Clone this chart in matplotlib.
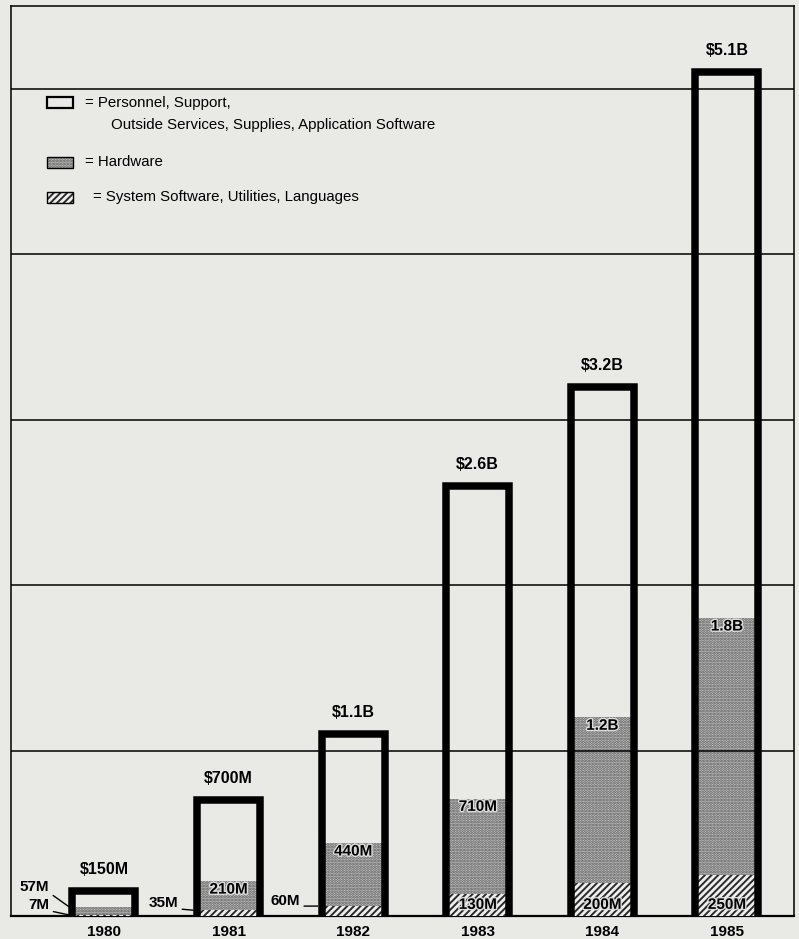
import matplotlib.pyplot as plt
import matplotlib.patheffects as pe
from matplotlib.patches import Rectangle

plt.rcParams['font.family'] = ['Liberation Sans', 'DejaVu Sans']
plt.rcParams['hatch.linewidth'] = 1.4

# data, in billions of dollars
years = ['1980', '1981', '1982', '1983', '1984', '1985']
total = [0.150, 0.700, 1.1, 2.6, 3.2, 5.1]
hardware = [0.057, 0.210, 0.440, 0.710, 1.2, 1.8]
software = [0.007, 0.035, 0.060, 0.130, 0.200, 0.250]
total_labels = ['$150M', '$700M', '$1.1B', '$2.6B', '$3.2B', '$5.1B']
hw_labels = ['57M', '210M', '440M', '710M', '1.2B', '1.8B']
sw_labels = ['7M', '35M', '60M', '130M', '200M', '250M']

paper = '#e9e9e5'
W, H = 799, 939

fig = plt.figure(figsize=(W / 100, H / 100), dpi=100)
fig.patch.set_facecolor(paper)
ax = fig.add_axes([11 / W, 23 / H, 783 / W, 910 / H])
ax.set_facecolor(paper)

x = list(range(len(years)))
bw = 0.506
hw_face, hw_dot = '#c6c6c6', '#5a5a5a'
sw_face, sw_line = '#eeeeee', '#2a2a2a'
halo = [pe.withStroke(linewidth=2, foreground='#dcdcdc')]

# hardware (stipple) and system software (hatched) drawn up from the baseline
ax.bar(x, hardware, width=bw, facecolor=hw_face, edgecolor=hw_dot,
       hatch='......', linewidth=0, zorder=2)
ax.bar(x, software, width=bw, facecolor=sw_face, edgecolor=sw_line,
       hatch='/////', linewidth=0, zorder=3)

# thick open outline for the total
for xi, t in zip(x, total):
    ax.plot([xi - bw / 2, xi - bw / 2, xi + bw / 2, xi + bw / 2], [0, t, t, 0],
            color='black', lw=5.4, solid_joinstyle='miter',
            solid_capstyle='butt', zorder=5)

# horizontal rules every $1B
for g in [1, 2, 3, 4, 5]:
    ax.axhline(g, color='black', lw=1.1, zorder=4)

ax.set_xlim(-0.746, 5.538)
ax.set_ylim(0, 5.5)
ax.set_xticks([])
ax.set_yticks([])
for s in ax.spines.values():
    s.set_linewidth(1.1)
ax.spines['bottom'].set_linewidth(1.6)

# totals above bars
for xi, t, lab in zip(x, total, total_labels):
    ax.annotate(lab, (xi, t), xytext=(0, 10), textcoords='offset points',
                ha='center', va='bottom', fontsize=11.5, fontweight='bold', zorder=6)

# year labels under the baseline
for xi, yr in zip(x, years):
    ax.text(xi, -0.095, yr, ha='center', va='center', fontsize=11,
            fontweight='bold', clip_on=False)

# hardware labels inside bars
for xi, h, lab in zip(x[1:], hardware[1:], hw_labels[1:]):
    ax.annotate(lab, (xi, h), xytext=(0, -6), textcoords='offset points',
                ha='center', va='center', fontsize=11, fontweight='bold',
                path_effects=halo, zorder=6)

# software labels inside the three big bars
for xi, lab in zip(x[3:], sw_labels[3:]):
    ax.annotate(lab, (xi, 0), xytext=(0, 8), textcoords='offset points',
                ha='center', va='center', fontsize=11, fontweight='bold',
                path_effects=halo, zorder=6)

# small values pointed to from the left
leaders = [(0, hardware[0], hw_labels[0], (-14, 14)),
           (0, software[0], sw_labels[0], (-14, 7)),
           (1, software[1], sw_labels[1], (-11, 5)),
           (2, software[2], sw_labels[2], (-13, 4))]
for xi, v, lab, off in leaders:
    ax.annotate(lab, (xi - bw / 2 - 0.03, v), xytext=off, textcoords='offset points',
                ha='right', va='center', fontsize=11, fontweight='bold',
                arrowprops=dict(arrowstyle='-', color='black', lw=1.0,
                                shrinkA=1, shrinkB=0, relpos=(1, 0.1)),
                zorder=6)

# legend
def fx(px):
    return px / W

def fy(py):
    return 1 - py / H

fig.add_artist(Rectangle((fx(47), fy(108)), fx(26), 11 / H, transform=fig.transFigure,
                         facecolor='none', edgecolor='black', lw=1.6))
fig.add_artist(Rectangle((fx(47), fy(168)), fx(26), 11 / H, transform=fig.transFigure,
                         facecolor=hw_face, edgecolor=hw_dot, hatch='......', lw=0))
fig.add_artist(Rectangle((fx(47), fy(168)), fx(26), 11 / H, transform=fig.transFigure,
                         facecolor='none', edgecolor='black', lw=1.0))
fig.add_artist(Rectangle((fx(47), fy(203)), fx(26), 11 / H, transform=fig.transFigure,
                         facecolor=sw_face, edgecolor=sw_line, hatch='/////', lw=0))
fig.add_artist(Rectangle((fx(47), fy(203)), fx(26), 11 / H, transform=fig.transFigure,
                         facecolor='none', edgecolor='black', lw=1.0))

fs = 10.8
fig.text(fx(85), fy(103), '= Personnel, Support,', fontsize=fs, va='center')
fig.text(fx(111), fy(125), 'Outside Services, Supplies, Application Software',
         fontsize=fs, va='center')
fig.text(fx(85), fy(162), '= Hardware', fontsize=fs, va='center')
fig.text(fx(93), fy(197), '= System Software, Utilities, Languages', fontsize=fs,
         va='center')

fig.savefig('out.png', dpi=100, facecolor=paper)
